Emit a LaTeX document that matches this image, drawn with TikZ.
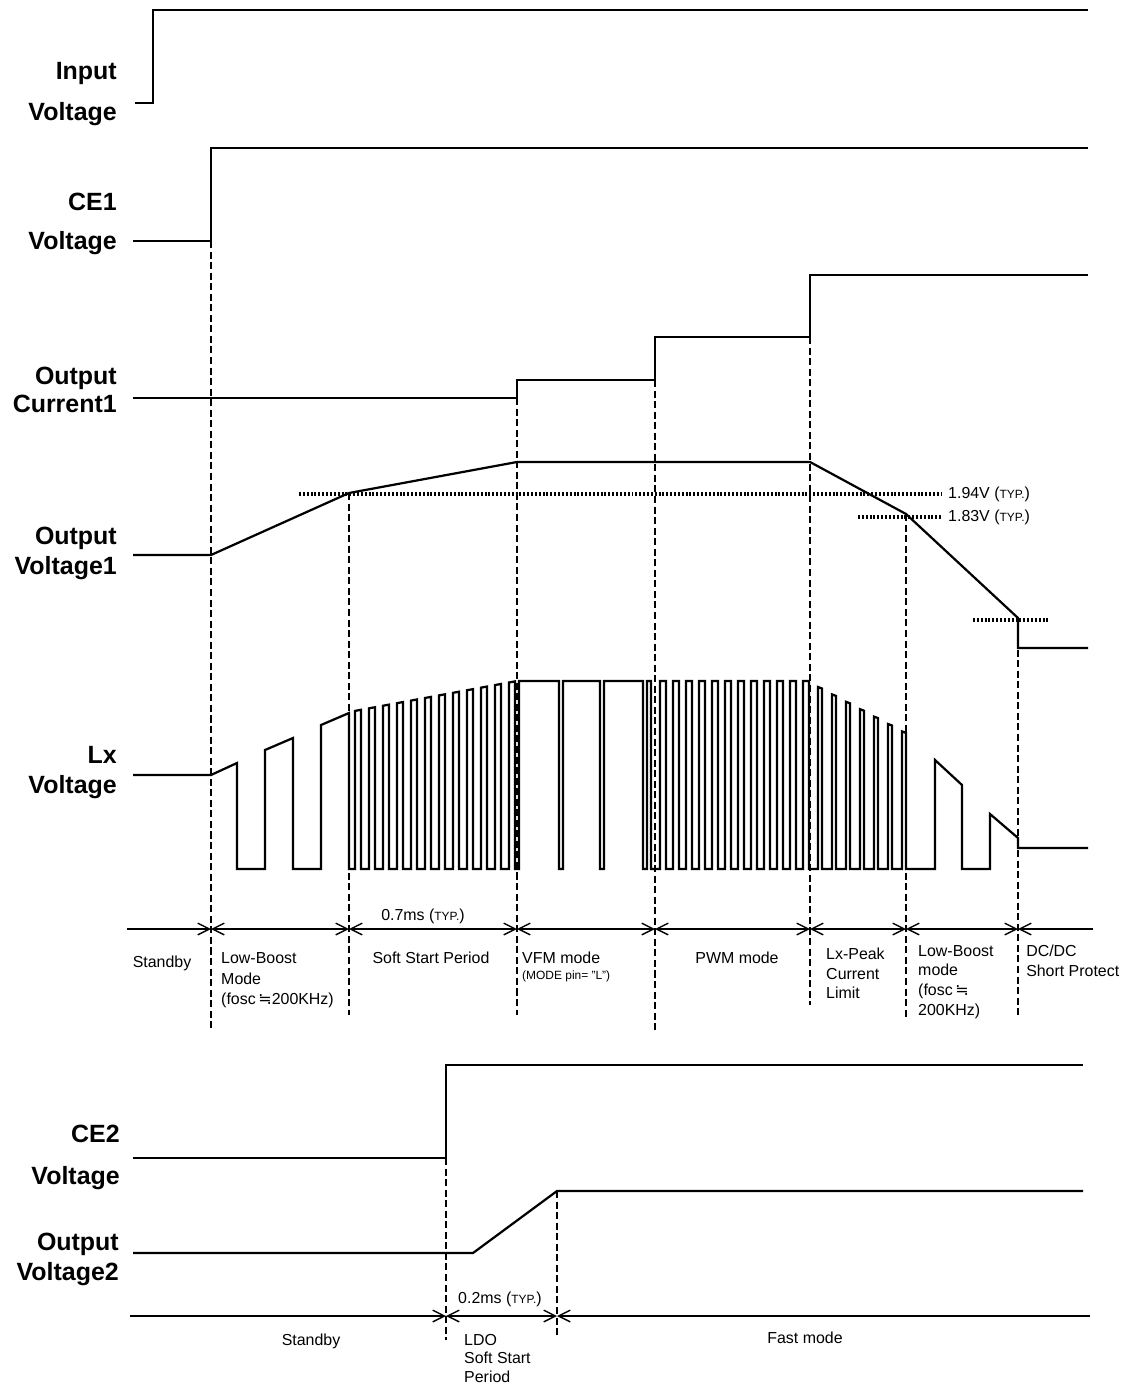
\documentclass[tikz,border=0pt]{standalone}
\usepackage{fontspec}
\setmainfont{Liberation Sans}
\newfontfamily\approxfont{DejaVu Sans}
\usetikzlibrary{arrows.meta}

\newcommand{\typ}{({\fontsize{10.2}{10}\selectfont TYP.})}
\newcommand{\nearlyeq}{\,{\approxfont ≒}}

\begin{document}
\begin{tikzpicture}[x=0.03cm,y=-0.03cm,
	>={Straight Barb[length=10pt,width=10pt]},
	sig/.style={line width=1.9pt},
	guide/.style={line width=0.9pt,dash pattern=on 6pt off 3pt},
	lvl/.style={line width=2.6pt,dash pattern=on 1.7pt off 1.6pt},
	span/.style={line width=1.2pt},
	lbl/.style={font=\fontsize{21.3}{#1}\selectfont\bfseries,inner sep=0pt,align=right,anchor=north east},
	txt/.style={font=\fontsize{13.6}{17.8}\selectfont,inner sep=0pt,align=left,anchor=north west},
	ctxt/.style={font=\fontsize{13.6}{17.8}\selectfont,inner sep=0pt,anchor=north}]
	\useasboundingbox (0,0) rectangle (1126,1385);

	% signal labels
	\node[lbl=35] (lIn) at (117,62) {Input\\Voltage};
	\node[lbl=33.3] (lCEa) at (117,193) {CE1\\Voltage};
	\node[lbl=24] (lIa) at (117,367) {Output\\Current1};
	\node[lbl=25.6] (lVa) at (117,527) {Output\\Voltage1};
	\node[lbl=25.6] (lLx) at (117,746) {Lx\\Voltage};
	\node[lbl=35.9] (lCEb) at (120,1125) {CE2\\Voltage};
	\node[lbl=25.6] (lVb) at (119,1233) {Output\\Voltage2};

	% input and CE1
	\coordinate (I0) at (135,103);
	\coordinate (I1) at (153,103);
	\coordinate (I2) at (153,10);
	\coordinate (I3) at (1088,10);
	\draw[sig] (I0)--(I1)--(I2)--(I3);
	\coordinate (C0) at (133,241);
	\coordinate (C1) at (211,241);
	\coordinate (C2) at (211,148);
	\coordinate (C3) at (1088,148);
	\draw[sig] (C0)--(C1)--(C2)--(C3);

	% output current 1
	\draw[sig] (133,398)--(517,398)--(517,380)--(655,380)--(655,337)--(810,337)--(810,275)--(1088,275);

	% output voltage 1
	\coordinate (V0) at (133,555);
	\coordinate (V1) at (211,555);
	\coordinate (V2) at (349,493);
	\coordinate (V3) at (517,462);
	\coordinate (V4) at (810,462);
	\coordinate (V5) at (906,514);
	\coordinate (V6) at (1018,618);
	\coordinate (V7) at (1018,648);
	\coordinate (V8) at (1088,648);
	\draw[lvl] (299,494) -- (942,494) node[right,font=\fontsize{13.6}{15}\selectfont,inner sep=4pt] (th1) {1.94V \typ};
	\draw[lvl] (858,517) -- (942,517) node[right,font=\fontsize{13.6}{15}\selectfont,inner sep=4pt] (th2) {1.83V \typ};
	\draw[lvl] (973,620) -- (1050,620);
	\draw[sig] (V0)--(V1)--(V2)--(V3)--(V4)--(V5)--(V6)--(V7)--(V8);

	% Lx voltage
	\draw[sig] (133,775) -- (211,775) -- (237,763) -- (237,869) -- (265,869) -- (265,750) -- (293,738)
		-- (293,869) -- (321,869) -- (321,725) -- (349,713) -- (349,869)
		\foreach \i in {0,...,11}{
			-- ({355+14*\i},869) -- ({355+14*\i},{712-31*(6+14*\i)/168})
			-- ({361+14*\i},{712-31*(12+14*\i)/168}) -- ({361+14*\i},869)
		}
		-- (519,869) -- (519,681) -- (559,681) -- (559,869) -- (563,869) -- (563,681) -- (600,681)
		-- (600,869) -- (604,869) -- (604,681) -- (643,681) -- (643,869) -- (647,869) -- (647,681)
		-- (651,681) -- (651,869)
		\foreach \i in {0,...,11}{
			-- ({660+13*\i},869) -- ({660+13*\i},681) -- ({666+13*\i},681) -- ({666+13*\i},869)
		}
		\foreach \k in {0,...,6}{
			-- ({818+14*\k},869) -- ({818+14*\k},{687+7.4*\k}) -- ({822+14*\k},{688.5+7.4*\k}) -- ({822+14*\k},869)
		}
		-- (935,869) -- (935,760) -- (962,785) -- (962,869) -- (990,869) -- (990,814) -- (1018,838)
		-- (1018,848) -- (1088,848);

	% guides
	\draw[guide] (211,241) -- (211,1030);
	\draw[guide] (349,493) -- (349,1015);
	\draw[guide] (517,398) -- (517,1015);
	\draw[guide] (655,380) -- (655,1030);
	\draw[guide] (810,337) -- (810,1005);
	\draw[guide] (906,514) -- (906,1020);
	\draw[guide] (1018,618) -- (1018,1015);

	% time axis 1
	\coordinate (a0) at (127,929);
	\coordinate (a1) at (211,929);
	\coordinate (a2) at (349,929);
	\coordinate (a3) at (517,929);
	\coordinate (a4) at (655,929);
	\coordinate (a5) at (810,929);
	\coordinate (a6) at (906,929);
	\coordinate (a7) at (1018,929);
	\coordinate (a8) at (1093,929);
	\draw[span,->] (a0) -- (a1);
	\draw[span,<->] (a1) -- (a2);
	\draw[span,<->] (a2) -- (a3);
	\draw[span,<->] (a3) -- (a4);
	\draw[span,<->] (a4) -- (a5);
	\draw[span,<->] (a5) -- (a6);
	\draw[span,<->] (a6) -- (a7);
	\draw[span,<-] (a7) -- (a8);

	\node[ctxt] (sb1) at (162,956) {Standby};
	\node[txt] (lb1) at (221,952) {Low-Boost\\Mode\\(fosc\nearlyeq200KHz)};
	\node[ctxt] (t07) at (423,909) {0.7ms \typ};
	\node[ctxt] (ss1) at (431,952) {Soft Start Period};
	\node[txt] (vfm) at (522,952) {VFM mode};
	\node[txt,font=\fontsize{10.2}{12}\selectfont] (pin) at (522,971) {(MODE pin= ”L”)};
	\node[ctxt] (pwm) at (737,952) {PWM mode};
	\node[txt,font=\fontsize{13.6}{16.6}\selectfont] (pk) at (826,948) {Lx-Peak\\Current\\Limit};
	\node[txt,font=\fontsize{13.6}{16.8}\selectfont] (lb2) at (918,945) {Low-Boost\\mode\\(fosc\nearlyeq\\200KHz)};
	\node[txt,font=\fontsize{13.6}{16.8}\selectfont] (sc) at (1026,945) {DC/DC\\Short Protect};

	% CE2 and output voltage 2
	\draw[sig] (133,1158) -- (446,1158) -- (446,1065) -- (1083,1065);
	\draw[sig] (133,1253) -- (473,1253) -- (557,1191) -- (1083,1191);
	\draw[guide] (446,1158) -- (446,1340);
	\draw[guide] (557,1191) -- (557,1338);

	% time axis 2
	\coordinate (c0) at (130,1316);
	\coordinate (c1) at (446,1316);
	\coordinate (c2) at (557,1316);
	\coordinate (c3) at (1090,1316);
	\draw[span,->] (c0) -- (c1);
	\draw[span,<->] (c1) -- (c2);
	\draw[span,<-] (c2) -- (c3);

	\node[ctxt] (sb2) at (311,1334) {Standby};
	\node[txt] (t02) at (458,1292) {0.2ms \typ};
	\node[txt,font=\fontsize{13.6}{15.7}\selectfont] (ldo) at (464,1334) {LDO\\Soft Start\\Period};
	\node[ctxt] (fm) at (805,1332) {Fast mode};
\end{tikzpicture}
\end{document}
